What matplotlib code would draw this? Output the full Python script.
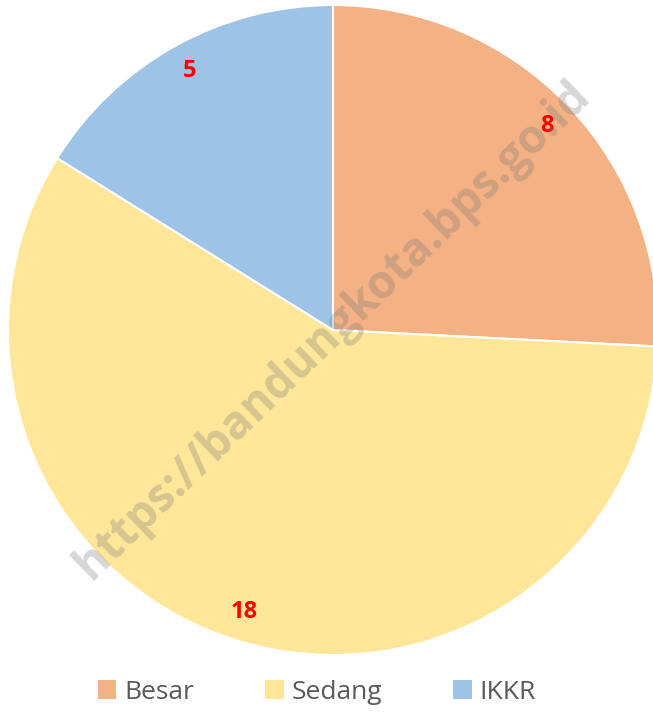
import matplotlib
matplotlib.use("Agg")
import matplotlib.pyplot as plt
from matplotlib.patches import Patch

categories = ["Besar", "Sedang", "IKKR"]
values = [8, 18, 5]
colors = ["#F4B183", "#FFE699", "#9DC3E6"]
watermark = "https://bandungkota.bps.go.id"

W, H = 653, 712
fig = plt.figure(figsize=(W / 100, H / 100), dpi=100)
ax = fig.add_axes([(333 - 325) / W, (H - 655) / H, 650 / W, 650 / H])

wedges, texts, autotexts = ax.pie(
    values, colors=colors, startangle=90, counterclock=False,
    autopct=lambda p: f"{round(p * sum(values) / 100):d}", pctdistance=0.91,
    wedgeprops=dict(edgecolor="white", linewidth=1.5), radius=1.0,
)
for t in autotexts:
    t.set_color("#FF0000")
    t.set_fontweight("bold")
    t.set_fontsize(17)
    t.set_family(["Open Sans", "DejaVu Sans"])
ax.set_xlim(-1, 1)
ax.set_ylim(-1, 1)
ax.set_aspect("equal")
ax.axis("off")

fig.text(0.51, 0.5365, watermark, rotation=44, ha="center", va="center",
         fontsize=33, fontweight="bold", color="#7a7a7a", alpha=0.3,
         family=["Open Sans", "DejaVu Sans"])

handles = [Patch(facecolor=c, edgecolor="none") for c in colors]
leg = fig.legend(handles, categories, loc="center", bbox_to_anchor=(0.485, 0.028),
                 ncol=3, frameon=False, handlelength=0.7,
                 handleheight=0.7, handletextpad=0.3, columnspacing=2.7,
                 prop=dict(family=["Open Sans", "DejaVu Sans"], size=19))
for t in leg.get_texts():
    t.set_color("#595959")

fig.savefig("out.png", dpi=100, facecolor="white")
